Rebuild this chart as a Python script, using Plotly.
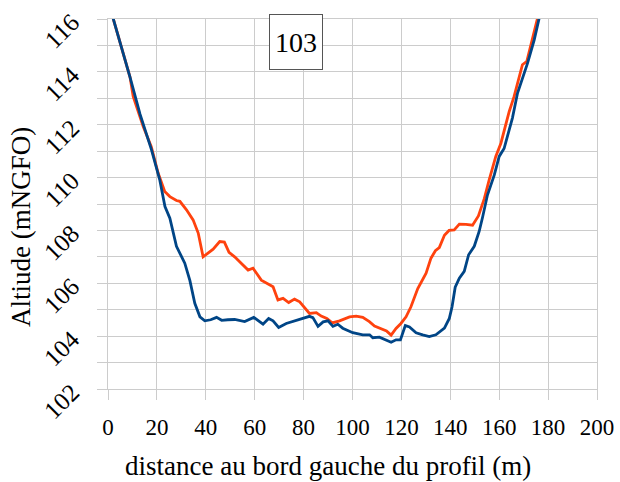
import plotly.graph_objects as go

# Profile 103 - blue series (x in m, altitude in mNGFO)
blue_x = [0, 2.2, 9, 13.1, 17.8, 21.2, 23.3, 25.3, 28, 31.4, 33.5, 35.5, 37.6, 39.6, 42, 44.4, 46.5, 49,
          51.8, 55.9, 59.6, 63.4, 65.7, 67.5, 69.8, 72.9, 76.3, 79, 82.4, 83.8, 85.9, 88, 90, 92, 94, 96,
          98.8, 100.1, 104.2, 107, 108.3, 111, 115.8, 117.8, 119.6, 121.6, 123.3, 126, 128.7, 131.4,
          134.1, 137.6, 139.6, 140.7, 142, 143.7, 145.7, 147.5, 149.8, 151.8, 153.2, 155.2, 158, 160,
          162, 165.4, 167.5, 171.6, 174.3, 176.3, 178]
blue_y = [116.7, 116, 113.8, 112.4, 111.05, 109.9, 108.9, 108.46, 107.4, 106.76, 106.1, 105.24, 104.73,
          104.58, 104.62, 104.71, 104.6, 104.62, 104.63, 104.55, 104.71, 104.45, 104.67, 104.58, 104.33,
          104.48, 104.58, 104.67, 104.75, 104.7, 104.37, 104.54, 104.58, 104.37, 104.45, 104.3, 104.2,
          104.13, 104.05, 104.05, 103.94, 103.96, 103.77, 103.86, 103.86, 104.4, 104.35, 104.13, 104.05,
          103.98, 104.05, 104.3, 104.67, 105.1, 105.85, 106.19, 106.45, 107.08, 107.4, 107.96, 108.5,
          109.34, 110.1, 110.8, 111.1, 112.25, 113.2, 114.33, 115.2, 116, 116.7]

# Profile 103 - orange series
orange_x = [0, 2.2, 9, 10.3, 14.4, 17.7, 20.5, 23.2, 25.3, 28, 29.4, 32.1, 34.8, 36.9, 38.9, 43, 45.7,
            47.6, 49.5, 51.8, 54.6, 57.3, 59.3, 62.7, 67.5, 69.5, 71.6, 73.9, 76.3, 78.4, 82.4, 85.2,
            87.2, 89.5, 91.7, 94.7, 98.8, 101.5, 104.2, 106.9, 109, 112.4, 113.9, 115.8, 117.8, 119.8,
            121.9, 123.9, 126.7, 130.1, 132.1, 133.9, 135.5, 137.6, 139.5, 141.6, 143.7, 146.4, 149.1,
            151.5, 153.9, 155.9, 158.6, 160.7, 162.7, 164.1, 166.1, 167.9, 169.5, 171.3, 173.6, 175.6, 177.3]
orange_y = [116.7, 116, 113.8, 113.07, 111.93, 111.17, 110.17, 109.47, 109.28, 109.13, 109.1, 108.78,
            108.4, 107.9, 107.0, 107.29, 107.58, 107.56, 107.17, 107.0, 106.76, 106.5, 106.57, 106.12,
            105.87, 105.37, 105.43, 105.27, 105.4, 105.3, 104.86, 104.89, 104.76, 104.67, 104.5, 104.58,
            104.73, 104.76, 104.71, 104.55, 104.38, 104.26, 104.2, 104.04, 104.29, 104.48, 104.73, 105.11,
            105.8, 106.38, 106.95, 107.23, 107.35, 107.82, 108.0, 108.02, 108.24, 108.23, 108.2, 108.55,
            109.2, 109.91, 110.8, 111.3, 112.06, 112.5, 113.07, 113.7, 114.27, 114.4, 115.2, 116, 116.7]

x_ticks = [0, 20, 40, 60, 80, 100, 120, 140, 160, 180, 200]
y_ticks = [102, 104, 106, 108, 110, 112, 114, 116]
label = "103"
x_title = "distance au bord gauche du profil (m)"
y_title = "Altiude (mNGFO)"

FONT = "Liberation Serif"
GRID = "#cccccc"

fig = go.Figure()
fig.add_trace(go.Scatter(x=orange_x, y=orange_y, mode="lines",
                         line=dict(color="#ff420e", width=2.8), showlegend=False))
fig.add_trace(go.Scatter(x=blue_x, y=blue_y, mode="lines",
                         line=dict(color="#004586", width=2.8), showlegend=False))

fig.update_layout(
    width=620, height=482,
    margin=dict(l=108, r=23, t=19, b=93, autoexpand=False),
    paper_bgcolor="white", plot_bgcolor="white",
    font=dict(family=FONT, color="black"),
    xaxis=dict(range=[0, 200], tickvals=x_ticks, ticktext=[str(v) for v in x_ticks],
               automargin=False,
               showgrid=True, gridcolor=GRID, gridwidth=1,
               ticks="outside", ticklen=10, tickcolor=GRID, ticklabelstandoff=7,
               showline=True, linecolor=GRID, mirror=True, zeroline=False,
               tickfont=dict(size=23, family=FONT)),
    yaxis=dict(range=[102, 116], tickvals=y_ticks, ticktext=[str(v) for v in y_ticks],
               automargin=False,
               showgrid=True, gridcolor=GRID, gridwidth=1,
               ticks="outside", ticklen=10, tickcolor=GRID, tickangle=-45,
               ticklabelstandoff=20,
               minor=dict(dtick=1, showgrid=True, gridcolor=GRID, ticks="outside",
                          ticklen=10, tickcolor=GRID),
               showline=True, linecolor=GRID, mirror=True, zeroline=False,
               tickfont=dict(size=25, family=FONT)),
    annotations=[
        dict(x=(296 - 108) / 489, y=(389 - 42) / 370, xref="paper", yref="paper", text=label,
             xanchor="center", yanchor="middle",
             showarrow=False, font=dict(size=28, family=FONT, color="black"),
             width=42, height=44,
             bordercolor="#555555", borderwidth=1, borderpad=5, bgcolor="white"),
        dict(x=(328 - 108) / 489, y=-(466 - 389) / 370, xref="paper", yref="paper",
             text=x_title, showarrow=False, font=dict(size=27, family=FONT, color="black"),
             xanchor="center", yanchor="middle"),
        dict(x=-(108 - 21) / 489, y=(389 - 227) / 370, xref="paper", yref="paper",
             text=y_title, textangle=-90, showarrow=False,
             font=dict(size=27, family=FONT, color="black"),
             xanchor="center", yanchor="middle"),
    ],
)

fig.write_html("out.html", post_script="document.body.style.margin='0';",
               config={"displayModeBar": False})
